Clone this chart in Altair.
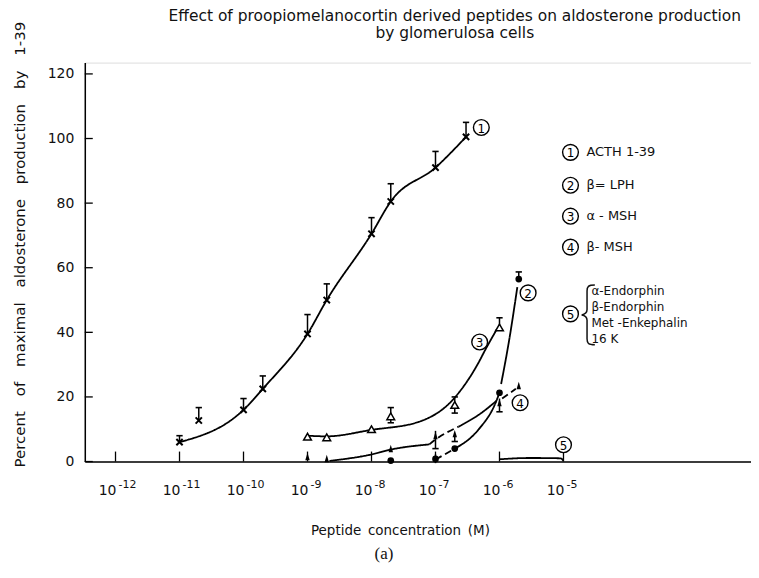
import altair as alt
import pandas as pd

# ---------------- data ----------------
x_tick_values = [1e-12, 1e-11, 1e-10, 1e-9, 1e-8, 1e-7, 1e-6, 1e-5]
x_tick_base = ["10"] * 8
x_tick_exponents = ["-12", "-11", "-10", "-9", "-8", "-7", "-6", "-5"]
y_tick_values = [0, 20, 40, 60, 80, 100, 120]

# (1) ACTH 1-39 : crosses
acth_conc = [1e-11, 2e-11, 1e-10, 2e-10, 1e-9, 2e-9, 1e-8, 2e-8, 1e-7, 3e-7]
acth_pct = [6, 12.7, 16, 22.5, 39.5, 50, 70.5, 80.5, 91, 100.5]
acth_hi = [8, 16.7, 19.5, 26.5, 45.5, 55, 75.5, 86, 96, 105]

# (2) beta-LPH : filled circles
blph_conc = [2e-8, 1e-7, 2e-7, 1e-6, 2e-6]
blph_pct = [0.3, 0.8, 4.0, 21.3, 56.5]

# (3) alpha-MSH : open triangles
amsh_conc = [1e-9, 2e-9, 1e-8, 2e-8, 2e-7, 1e-6]
amsh_pct = [7.7, 7.5, 10, 14, 17.5, 41.5]

# (4) beta-MSH : filled triangles
bmsh_conc = [1e-9, 2e-9, 2e-8, 1e-7, 2e-7, 1e-6, 2e-6]
bmsh_pct = [1.2, 0.6, 3.7, 7.7, 8.3, 17.9, 23.2]

# error bars of the open/filled symbols: concentration, low, high, cap position
err_conc = [2e-8, 2e-7, 1e-6, 1e-7, 2e-6, 1e-7, 2e-7, 1e-6]
err_lo = [12.0, 15.0, 41.5, -0.5, 56.5, 4.0, 6.2, 15.4]
err_hi = [16.7, 20.0, 44.5, 2.2, 58.7, 9.5, 8.3, 19.5]
err_cap = ["both", "both", "top", "none", "top", "bottom", "bottom", "bottom"]

# fitted curves: segment id, style, points
curve_segments = [
    ("c1", "solid", [1e-11, 1e-10, 2e-10, 1e-9, 2e-9, 1e-8, 2e-8, 1e-7, 3e-7],
     [6, 16, 22.5, 39.5, 50, 70.5, 80.5, 91, 100.5]),
    ("c3", "solid", [1e-9, 2e-9, 1e-8, 5.5e-8, 2e-7, 4.7e-7, 6e-7, 9e-7],
     [8, 7.8, 9.8, 12.3, 19.8, 30.6, 34.6, 40.8]),
    ("c2a", "dashed", [1e-7, 2e-7], [0.6, 4.0]),
    ("c2b", "solid", [2e-7, 4.7e-7, 8.7e-7, 1e-6], [4.0, 9.9, 18.2, 21.3]),
    ("c2c", "solid", [1.06e-6, 1.4e-6, 1.9e-6], [24, 37, 54]),
    ("c4a", "solid", [2.2e-9, 1e-8, 2e-8, 8e-8], [0.2, 2.2, 3.7, 5.3]),
    ("c4b", "dashed", [8e-8, 1e-7, 2.3e-7], [5.3, 6.8, 10.8]),
    ("c4c", "solid", [2.3e-7, 5e-7, 9e-7], [10.8, 14.8, 18.8]),
    ("c4d", "dashed", [1.1e-6, 1.8e-6], [19.5, 22.5]),
    ("c5", "solid", [1e-6, 3e-6, 9e-6, 1e-5], [0.7, 1.1, 1.0, 0.2]),
]

# circled curve labels
label_conc = [5.2e-7, 2.8e-6, 4.9e-7, 2.1e-6, 1e-5]
label_pct = [103.4, 52.2, 37.0, 18.2, 5.2]
label_num = ["1", "2", "3", "4", "5"]

legend_main = ["ACTH 1-39", "β= LPH", "α - MSH", "β- MSH"]
legend_group5 = ["α-Endorphin", "β-Endorphin", "Met -Enkephalin", "16 K"]

title_lines = ["Effect of proopiomelanocortin derived peptides on aldosterone production",
               "by glomerulosa cells"]
x_title = "Peptide\u2002concentration\u2002(M)"
y_title = "Percent\u2003of\u2003maximal\u2003aldosterone\u2003production\u2003by\u20031-39"

# ---------------- build ----------------
FONT = "DejaVu Sans"
W, H = 668, 400

xscale = alt.Scale(type="log", domain=[10 ** -12.48, 10 ** -2.07], nice=False)
yscale = alt.Scale(domain=[0, 123.5], nice=False, zero=False)

xaxis = alt.Axis(values=x_tick_values, labels=False, ticks=False, grid=False,
                 domainColor="black", domainWidth=1.5,
                 title=x_title, titleFont=FONT,
                 titleFontSize=13.5, titleFontWeight="normal", titleColor="#111",
                 titlePadding=62, titleX=W / 2 - 18)
yaxis = alt.Axis(values=y_tick_values, ticks=False, grid=False, domainColor="black",
                 domainWidth=1.5, labelFont=FONT, labelFontSize=14, labelColor="#111",
                 labelPadding=11, title=y_title, titleFont=FONT, titleFontSize=15,
                 titleFontWeight="normal", titleColor="#111", titlePadding=20,
                 titleY=H / 2 - 18)

X = alt.X("c:Q", scale=xscale, axis=xaxis)
Y = alt.Y("v:Q", scale=yscale, axis=yaxis)

# curves
rows = []
for seg, style, cs, vs in curve_segments:
    for i, (c, v) in enumerate(zip(cs, vs)):
        rows.append({"seg": seg, "style": style, "c": c, "v": v, "o": i})
curves = alt.Chart(pd.DataFrame(rows)).mark_line(
    interpolate="monotone", color="black", strokeWidth=1.8
).encode(
    x=X, y=Y, detail="seg:N", order="o:Q",
    strokeDash=alt.StrokeDash("style:N", legend=None,
                              scale=alt.Scale(domain=["solid", "dashed"], range=[[1, 0], [7, 4]])),
)

# ACTH error bars (T shape above crosses)
acth_df = pd.DataFrame({"c": acth_conc, "v": acth_pct, "hi": acth_hi})
acth_bars = alt.Chart(acth_df).mark_rule(color="black", strokeWidth=1.5).encode(
    x=X, y=Y, y2="hi:Q")
acth_caps = alt.Chart(acth_df).mark_point(shape="stroke", size=40, color="black",
                                          strokeWidth=1.6, opacity=1).encode(
    x=X, y=alt.Y("hi:Q", scale=yscale, axis=yaxis))
acth_pts = alt.Chart(acth_df).mark_point(
    shape="M-1,-1L1,1M-1,1L1,-1", filled=False, size=40, strokeWidth=2,
    color="black", opacity=1).encode(x=X, y=Y)

# other error bars
err_df = pd.DataFrame({"c": err_conc, "v": err_lo, "hi": err_hi, "cap": err_cap})
err_bars = alt.Chart(err_df).mark_rule(color="black", strokeWidth=1.5).encode(
    x=X, y=Y, y2="hi:Q")
caps_top = alt.Chart(err_df).transform_filter(
    "datum.cap == 'top' || datum.cap == 'both'").mark_point(
    shape="stroke", size=40, color="black", strokeWidth=1.6, opacity=1).encode(
    x=X, y=alt.Y("hi:Q", scale=yscale, axis=yaxis))
caps_bot = alt.Chart(err_df).transform_filter(
    "datum.cap == 'bottom' || datum.cap == 'both'").mark_point(
    shape="stroke", size=40, color="black", strokeWidth=1.6, opacity=1).encode(
    x=X, y=Y)

blph_pts = alt.Chart(pd.DataFrame({"c": blph_conc, "v": blph_pct})).mark_point(
    shape="circle", filled=True, size=45, color="black", opacity=1).encode(x=X, y=Y)
amsh_pts = alt.Chart(pd.DataFrame({"c": amsh_conc, "v": amsh_pct})).mark_point(
    shape="triangle-up", filled=True, size=60, fill="white", stroke="black",
    strokeWidth=1.5, opacity=1).encode(x=X, y=Y)
bmsh_pts = alt.Chart(pd.DataFrame({"c": bmsh_conc, "v": bmsh_pct})).mark_point(
    shape="M0,-1.3L0.6,0.7L-0.6,0.7Z", filled=True, size=55, color="black",
    opacity=1).encode(x=X, y=Y)

# inward axis ticks and the x tick labels (10 with raised exponent)
xt_df = pd.DataFrame({"c": x_tick_values, "b": x_tick_base, "e": x_tick_exponents})
xt = alt.Chart(xt_df).mark_rule(color="black", strokeWidth=1.3).encode(
    x=X, y=alt.value(H), y2=alt.value(H - 10))
xl_base = alt.Chart(xt_df).mark_text(font=FONT, fontSize=14, align="right",
                                     baseline="middle", dx=1, color="#111").encode(
    x=X, y=alt.value(H + 30), text="b:N")
xl_exp = alt.Chart(xt_df).mark_text(font=FONT, fontSize=11, align="left",
                                    baseline="middle", dx=3, dy=-6, color="#111").encode(
    x=X, y=alt.value(H + 30), text="e:N")
yt = alt.Chart(pd.DataFrame({"v": y_tick_values})).mark_rule(
    color="black", strokeWidth=1.3).encode(y=Y, x=alt.value(0), x2=alt.value(8))

# circled labels on curves
lab_df = pd.DataFrame({"c": label_conc, "v": label_pct, "n": label_num})
lab_circ = alt.Chart(lab_df).mark_point(shape="circle", filled=True, fill="white",
                                        stroke="black", strokeWidth=1.4, size=250,
                                        opacity=1).encode(x=X, y=Y)
lab_txt = alt.Chart(lab_df).mark_text(font=FONT, fontSize=12, color="black",
                                      baseline="middle", dy=1).encode(x=X, y=Y, text="n:N")

# right-hand key
key_layers = []
key_x_circle, key_x_text = 487, 503
key_y = [90, 123, 154, 185]
for num, txt, yy in zip(label_num[:4], legend_main, key_y):
    d = pd.DataFrame({"t": [txt], "n": [num]})
    key_layers.append(alt.Chart(d).mark_point(shape="circle", filled=True, fill="white",
                                              stroke="black", strokeWidth=1.4, size=250,
                                              opacity=1).encode(
        x=alt.value(key_x_circle), y=alt.value(yy)))
    key_layers.append(alt.Chart(d).mark_text(font=FONT, fontSize=12, baseline="middle",
                                             dy=1, color="black").encode(
        x=alt.value(key_x_circle), y=alt.value(yy), text="n:N"))
    key_layers.append(alt.Chart(d).mark_text(font=FONT, fontSize=13, baseline="middle",
                                             align="left", color="#111").encode(
        x=alt.value(key_x_text), y=alt.value(yy), text="t:N"))

g5_y = [229, 245, 261, 277]
d5 = pd.DataFrame({"n": [label_num[4]]})
key_layers.append(alt.Chart(d5).mark_point(shape="circle", filled=True, fill="white",
                                           stroke="black", strokeWidth=1.4, size=250,
                                           opacity=1).encode(
    x=alt.value(key_x_circle), y=alt.value(252)))
key_layers.append(alt.Chart(d5).mark_text(font=FONT, fontSize=12, baseline="middle",
                                          dy=1, color="black").encode(
    x=alt.value(key_x_circle), y=alt.value(252), text="n:N"))
brace_path = ("M0.28,-1C0.06,-1 0.02,-0.95 0.02,-0.8L0.02,-0.18C0.02,-0.06 -0.05,-0.02 -0.16,0"
              "C-0.05,0.02 0.02,0.06 0.02,0.18L0.02,0.8C0.02,0.95 0.06,1 0.28,1")
key_layers.append(alt.Chart(d5).mark_point(shape=brace_path, filled=False, size=3600,
                                           stroke="#111", strokeWidth=1.5,
                                           opacity=1).encode(
    x=alt.value(503), y=alt.value(253)))
for txt, yy in zip(legend_group5, g5_y):
    d = pd.DataFrame({"t": [txt]})
    key_layers.append(alt.Chart(d).mark_text(font=FONT, fontSize=12, baseline="middle",
                                             align="left", color="#111").encode(
        x=alt.value(508), y=alt.value(yy), text="t:N"))

# two-line heading above the plot
title_layers = []
for txt, yy in zip(title_lines, [-47, -30]):
    d = pd.DataFrame({"t": [txt]})
    title_layers.append(alt.Chart(d).mark_text(font=FONT, fontSize=15.5, baseline="middle",
                                               align="center", color="#111").encode(
        x=alt.value(W / 2 + 37), y=alt.value(yy), text="t:N"))

panel_tag = alt.Chart(pd.DataFrame({"t": ["(a)"]})).mark_text(
    font="Liberation Serif", fontSize=17, baseline="middle", color="#111").encode(
    x=alt.value(300), y=alt.value(H + 93), text="t:N")

chart = alt.layer(
    curves, xt, yt, xl_base, xl_exp, acth_bars, acth_caps, acth_pts, err_bars,
    caps_top, caps_bot, amsh_pts, blph_pts, bmsh_pts, lab_circ, lab_txt,
    *key_layers, *title_layers, panel_tag
).properties(
    width=W, height=H,
    autosize=alt.AutoSizeParams(type="none"),
    padding={"left": 77, "top": 54, "right": 0, "bottom": 108},
).configure_view(stroke="#666", strokeWidth=1).configure(background="white")

chart.save("out.html", embed_options={"renderer": "svg", "actions": False})
